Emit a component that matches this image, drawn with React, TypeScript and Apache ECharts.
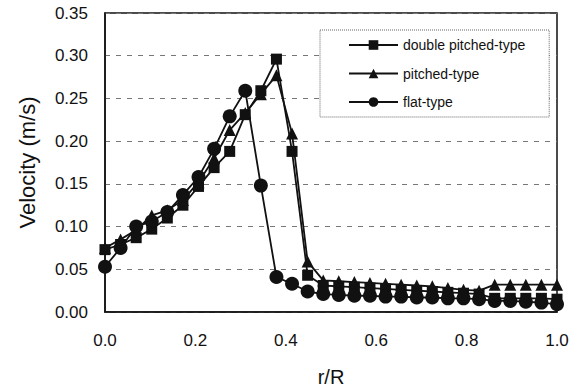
import React, { useEffect, useRef } from "react";
import * as echarts from "echarts";

const rValues = [
  0, 0.0345, 0.069, 0.1034, 0.1379, 0.1724, 0.2069, 0.2414, 0.2759, 0.3103,
  0.3448, 0.3793, 0.4138, 0.4483, 0.4828, 0.5172, 0.5517, 0.5862, 0.6207, 0.6552,
  0.6897, 0.7241, 0.7586, 0.7931, 0.8276, 0.8621, 0.8966, 0.931, 0.9655, 1.0,
];

const doublePitched = [
  0.073, 0.079, 0.087, 0.097, 0.110, 0.125, 0.147, 0.169, 0.188, 0.231,
  0.259, 0.296, 0.188, 0.043, 0.031, 0.030, 0.029, 0.028, 0.027, 0.026,
  0.025, 0.024, 0.023, 0.022, 0.021, 0.016, 0.016, 0.016, 0.016, 0.015,
];

const pitched = [
  0.075, 0.085, 0.096, 0.113, 0.119, 0.131, 0.152, 0.180, 0.213, 0.233,
  0.255, 0.277, 0.209, 0.059, 0.037, 0.036, 0.035, 0.034, 0.033, 0.032,
  0.031, 0.030, 0.028, 0.026, 0.025, 0.032, 0.032, 0.032, 0.032, 0.032,
];

const flat = [
  0.053, 0.075, 0.100, 0.106, 0.117, 0.137, 0.158, 0.191, 0.229, 0.259,
  0.148, 0.041, 0.033, 0.024, 0.021, 0.020, 0.019, 0.019, 0.018, 0.018,
  0.017, 0.017, 0.016, 0.016, 0.015, 0.013, 0.013, 0.012, 0.011, 0.009,
];

const seriesNames = ["double pitched-type", "pitched-type", "flat-type"];
const yTicks = [0, 0.05, 0.1, 0.15, 0.2, 0.25, 0.3, 0.35];
const xTicks = [0, 0.2, 0.4, 0.6, 0.8, 1.0];

const FONT = "'Liberation Sans', Arial, sans-serif";

export default function App() {
  const ref = useRef<HTMLDivElement>(null);
  useEffect(() => {
    if (!ref.current) return;
    const chart = echarts.init(ref.current, undefined, { renderer: "svg" });
    const pair = (ys: number[]) => rValues.map((x, i) => [x, ys[i]]);
    const mk = (name: string, ys: number[], symbol: string, size: number) => ({
      name,
      type: "line",
      data: pair(ys),
      symbol,
      symbolSize: size,
      lineStyle: { color: "#111", width: 1.8 },
      itemStyle: { color: "#111" },
      z: 3,
    });
    chart.setOption({
      animation: false,
      backgroundColor: "#fff",
      textStyle: { fontFamily: FONT },
      grid: {
        left: 105,
        right: 18,
        top: 13,
        bottom: 75,
        outerBoundsMode: "none",
        containLabel: false,
        show: true,
        borderColor: "#111",
        borderWidth: 1.5,
        backgroundColor: "transparent",
      },
      legend: {
        orient: "vertical",
        left: 320,
        top: 30,
        data: seriesNames,
        itemWidth: 49,
        itemHeight: 12,
        itemGap: 14.5,
        padding: [8, 24, 8, 28],
        borderColor: "#666",
        borderWidth: 1,
        borderType: "dotted",
        backgroundColor: "#fff",
        textStyle: { fontSize: 14, color: "#111", fontFamily: FONT, padding: [0, 0, 0, 0] },
      },
      xAxis: {
        type: "value",
        min: 0,
        max: 1,
        interval: 0.2,
        name: "r/R",
        nameLocation: "middle",
        nameGap: 55,
        nameTextStyle: { fontSize: 20, color: "#111", fontFamily: FONT },
        axisLine: { show: true, lineStyle: { color: "#111", width: 1.5 } },
        axisTick: { show: false },
        splitLine: { show: false },
        axisLabel: {
          fontSize: 17,
          color: "#111",
          margin: 20,
          fontFamily: FONT,
          formatter: (v: number) => (xTicks.some((t) => Math.abs(t - v) < 1e-9) ? v.toFixed(1) : ""),
        },
      },
      yAxis: {
        type: "value",
        min: 0,
        max: 0.35,
        interval: 0.05,
        name: "Velocity (m/s)",
        nameLocation: "middle",
        nameGap: 67,
        nameTextStyle: { fontSize: 22, color: "#111", fontFamily: FONT },
        axisLine: { show: true, lineStyle: { color: "#111", width: 1.5 } },
        axisTick: { show: false },
        splitLine: { show: true, lineStyle: { color: "#777", width: 1, type: [5, 6] } },
        axisLabel: {
          fontSize: 17,
          color: "#111",
          margin: 17,
          fontFamily: FONT,
          formatter: (v: number) => (yTicks.some((t) => Math.abs(t - v) < 1e-9) ? v.toFixed(2) : ""),
        },
      },
      series: [
        mk(seriesNames[0], doublePitched, "rect", 11),
        mk(seriesNames[1], pitched, "triangle", 12),
        mk(seriesNames[2], flat, "circle", 14),
      ],
    });
    return () => chart.dispose();
  }, []);
  return <div ref={ref} style={{ width: 575, height: 387, position: "absolute", left: 0, top: 0 }} />;
}
